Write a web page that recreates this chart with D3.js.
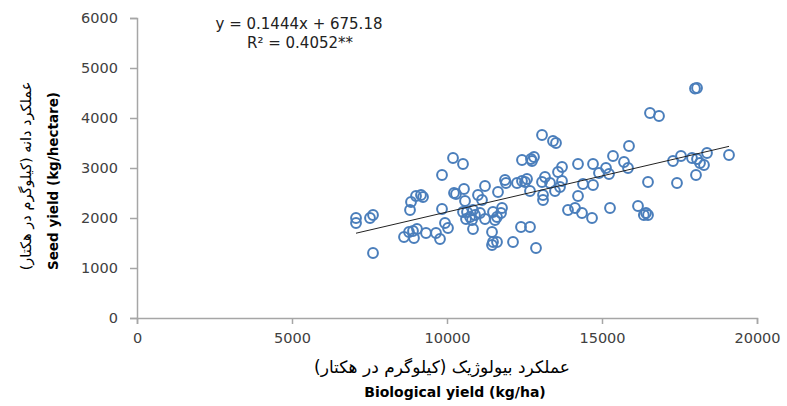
<!DOCTYPE html>
<html><head><meta charset="utf-8">
<script src="https://cdn.jsdelivr.net/npm/d3@7"></script>
<style>
body{margin:0;background:#fff;}
svg{display:block;}
</style></head>
<body>
<svg id="chart" width="787" height="406"></svg>
<script>
// Data (biological yield kg/ha, seed yield kg/ha)
const bioYield = [
 7065,7065,7516,7613,7613,8613,8775,8903,9032,8935,9323,9645,9774,9935,10032,
 8807,8839,9000,9161,9226,9839,9839,10194,10516,10226,10290,10548,10581,10516,10613,
 13065,13419,13516,12419,12710,12806,12742,11000,11226,11129,11645,11871,11903,12258,12419,
 12581,12516,12677,13065,13161,13097,13097,13323,13484,13581,13710,13710,13645,14226,14710,
 14387,14710,14226,13903,14129,14355,14678,12387,12677,12129,12871,10645,10839,10742,10903,
 11065,10806,10839,11226,11484,11613,11548,11452,11774,11742,11484,11452,11613,
 18065,18000,16548,16839,15871,15355,15129,15710,15839,14903,15226,17290,17548,17903,18065,
 18161,18290,18387,19097,16484,17419,18032,15258,16161,16419,16484,16350
];
const seedYield = [
 2000,1900,2000,2060,1300,1620,1720,1740,1780,1600,1700,1700,1580,1900,1800,
 2160,2320,2440,2460,2420,2180,2860,3200,3080,2500,2480,2580,2340,2120,1980,
 3660,3540,3500,3160,3180,3220,3140,2460,2640,2360,2520,2760,2700,2700,2740,
 2780,2720,2540,2720,2820,2460,2360,2700,2540,2920,3020,2740,2620,3080,3080,
 2680,2660,2440,2160,2200,2100,2000,1820,1820,1520,1400,2120,2160,2020,2060,
 2100,1960,1780,1980,2120,2020,1960,1720,2200,2100,1520,1460,1520,
 4600,4590,4100,4040,3440,3240,3000,3120,3000,2900,2880,3140,3240,3200,3180,
 3100,3060,3300,3260,2720,2700,2860,2200,2240,2100,2060,2060
];
const xTicks = [0,5000,10000,15000,20000];
const yTicks = [0,1000,2000,3000,4000,5000,6000];
const slope = 0.1444, intercept = 675.18;
const eqText = "y = 0.1444x + 675.18";
const r2Text = "R² = 0.4052**";
const xTitleFa = "عملکرد بیولوژیک (کیلوگرم در هکتار)";
const xTitleEn = "Biological yield (kg/ha)";
const yTitleFa = "عملکرد دانه (کیلوگرم در هکتار)";
const yTitleEn = "Seed yield (kg/hectare)";

const svg = d3.select("#chart");
const mL = 137, mR = 757, mT = 18, mB = 318;
const x = d3.scaleLinear().domain([0,20000]).range([mL,mR]);
const y = d3.scaleLinear().domain([0,6000]).range([mB,mT]);
const axisColor = "#a6a6a6";
const tickFont = "'DejaVu Sans', sans-serif";

const gx = svg.append("g").attr("transform",`translate(0,${mB})`)
  .call(d3.axisBottom(x).tickValues(xTicks).tickSize(6).tickPadding(9).tickFormat(d3.format("d")));
const gy = svg.append("g").attr("transform",`translate(${mL},0)`)
  .call(d3.axisLeft(y).tickValues(yTicks).tickSize(7).tickPadding(12).tickFormat(d3.format("d")));
[gx,gy].forEach(g=>{
  g.select(".domain").attr("stroke",axisColor).attr("stroke-width",1.5);
  g.selectAll(".tick line").attr("stroke",axisColor).attr("stroke-width",1.5);
  g.selectAll(".tick text").attr("fill","#404040").style("font-family",tickFont).style("font-size","14.5px");
});

const pts = bioYield.map((b,i)=>({b, s: seedYield[i]}));
svg.append("g").selectAll("circle").data(pts).join("circle")
  .attr("cx",d=>x(d.b)).attr("cy",d=>y(d.s)).attr("r",4.9)
  .attr("fill","none").attr("stroke","#4a7ebb").attr("stroke-width",2);

const xmin = d3.min(bioYield), xmax = d3.max(bioYield);
svg.append("line")
  .attr("x1",x(xmin)).attr("y1",y(slope*xmin+intercept))
  .attr("x2",x(xmax)).attr("y2",y(slope*xmax+intercept))
  .attr("stroke","#222").attr("stroke-width",1);

svg.append("text").attr("x",299).attr("y",29).attr("text-anchor","middle")
  .style("font-family",tickFont).style("font-size","15px").attr("fill","#222").text(eqText);
svg.append("text").attr("x",300).attr("y",48).attr("text-anchor","middle")
  .style("font-family",tickFont).style("font-size","15px").attr("fill","#222").text(r2Text);

svg.append("text").attr("x",442).attr("y",373).attr("text-anchor","middle")
  .style("font-family","'DejaVu Sans', sans-serif").style("font-size","17px").attr("fill","#000").text(xTitleFa);
svg.append("text").attr("x",455).attr("y",397).attr("text-anchor","middle")
  .style("font-family","'DejaVu Sans', sans-serif").style("font-weight","bold").style("font-size","14px").attr("fill","#000").text(xTitleEn);

svg.append("text").attr("transform","translate(31,176) rotate(-90)").attr("text-anchor","middle")
  .style("font-family","'DejaVu Sans', sans-serif").style("font-size","14.5px").attr("fill","#000").text(yTitleFa);
svg.append("text").attr("transform","translate(58,181) rotate(-90)").attr("text-anchor","middle")
  .style("font-family","'DejaVu Sans', sans-serif").style("font-weight","bold").style("font-size","13.5px").attr("fill","#000").text(yTitleEn);
</script>
</body></html>
